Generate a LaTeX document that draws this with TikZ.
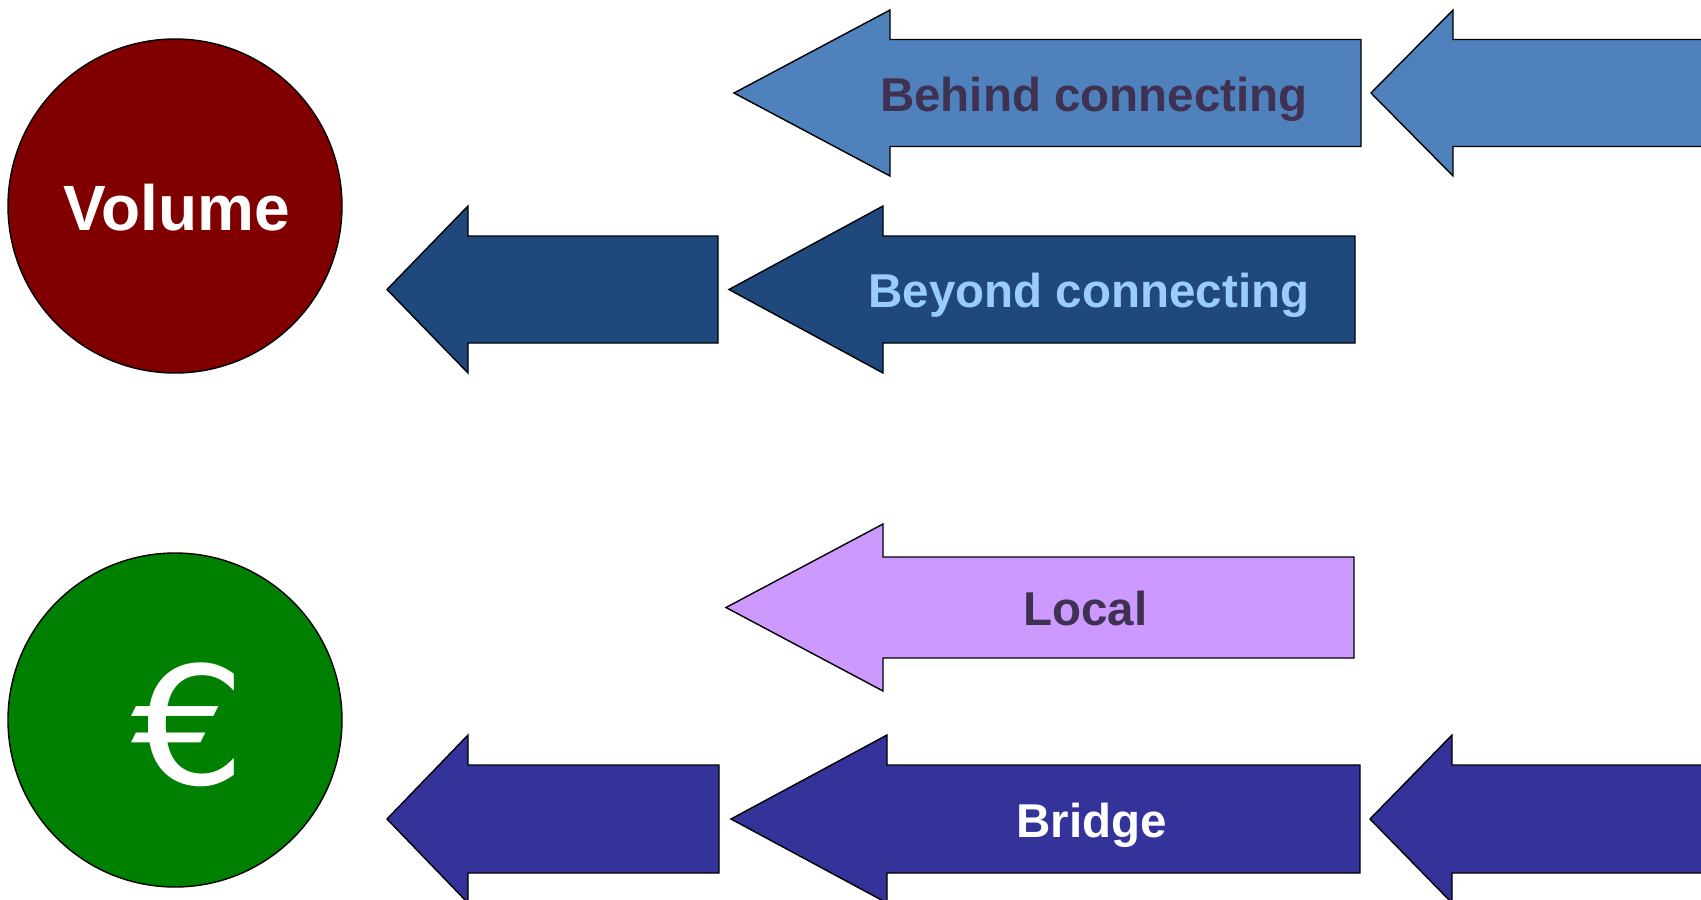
\documentclass[tikz,border=0pt]{standalone}
\usepackage{fontspec}
\setmainfont{Liberation Sans}
\newfontfamily\eurofont{DejaVu Sans}
\definecolor{maroonc}{HTML}{800000}
\definecolor{greenc}{HTML}{008000}
\definecolor{lightblue}{HTML}{4F81BD}
\definecolor{darkblue}{HTML}{1F497D}
\definecolor{lilac}{HTML}{CC99FF}
\definecolor{indigo}{HTML}{333399}
\definecolor{darkpurple}{HTML}{3F3151}
\definecolor{paleblue}{HTML}{99CCFF}
% #1 fill, #2 tip x, #3 head back x, #4 right x, #5 centre y, #6 head half, #7 shaft half
\newcommand{\leftarrowshape}[7]{%
  \draw[arrowshape, fill=#1] (#2,#5) -- (#3,#5-#6) -- (#3,#5-#7) -- (#4,#5-#7)
    -- (#4,#5+#7) -- (#3,#5+#7) -- (#3,#5+#6) -- cycle;}
\begin{document}
\begin{tikzpicture}[x=1pt,y=-1pt,
  arrowshape/.style={draw=black, line width=1.4pt, line join=miter},
  disc/.style={circle, draw=black, line width=1.4pt, minimum size=334pt, inner sep=0pt},
  lbl/.style={anchor=base, font=\bfseries\fontsize{47.5}{50}\selectfont, inner sep=0pt}]
\useasboundingbox (0,0) rectangle (1701,900);
\clip (0,0) rectangle (1701,900);
% circles
\node[disc, fill=maroonc] (volume) at (175,206) {};
\node[disc, fill=greenc] (euro) at (175,720) {};
\node[anchor=base, inner sep=0pt, text=white, font=\bfseries\fontsize{64}{66}\selectfont] (volumetxt) at (176.5,230) {Volume};
\node[anchor=base, inner sep=0pt, text=white, xscale=1.1, font=\eurofont\fontsize{164}{164}\selectfont] (eurotxt) at (189,784) {€};
% row 1
\leftarrowshape{lightblue}{734}{890}{1361}{93}{83}{53.5}
\leftarrowshape{lightblue}{1371}{1453}{1730}{93}{83}{53.5}
% row 2
\leftarrowshape{darkblue}{729}{883}{1355}{289.5}{83.5}{53.5}
\leftarrowshape{darkblue}{387}{468}{718}{289.5}{83.5}{53.5}
% row 3
\leftarrowshape{lilac}{726}{883}{1354}{607.5}{83.5}{50.5}
% row 4
\leftarrowshape{indigo}{387}{468}{719}{819}{84}{54}
\leftarrowshape{indigo}{731}{887}{1360}{819}{84}{54}
\leftarrowshape{indigo}{1370}{1452}{1730}{819}{84}{54}
% labels
\node[lbl, text=darkpurple] (behind) at (1094,111) {Behind connecting};
\node[lbl, text=paleblue] (beyond) at (1089,307) {Beyond connecting};
\node[lbl, text=darkpurple] (local) at (1085.5,625) {Local};
\node[lbl, text=white] (bridge) at (1091.5,837) {Bridge};
\end{tikzpicture}
\end{document}
